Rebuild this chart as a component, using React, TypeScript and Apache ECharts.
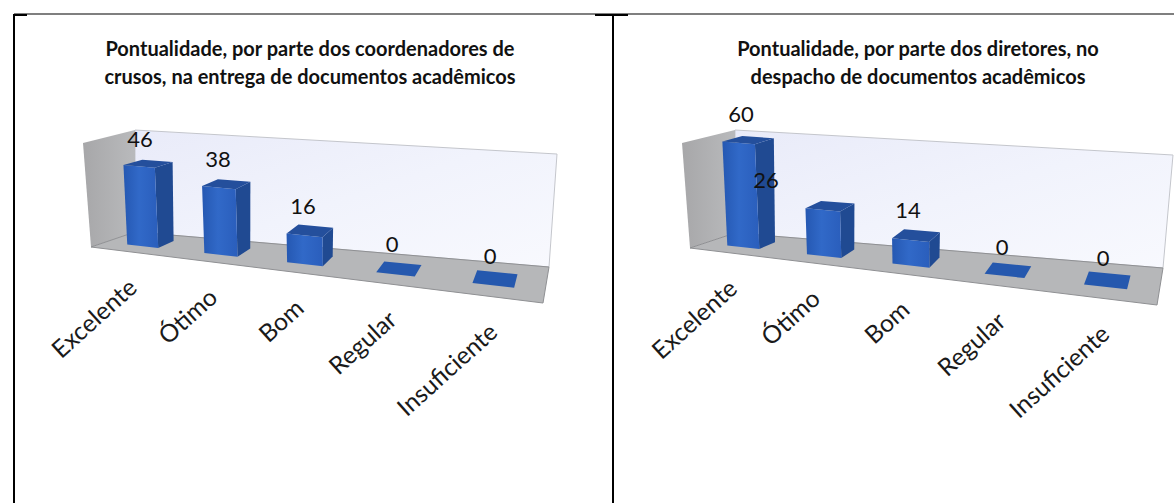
import React, { useEffect, useRef } from "react";
import * as echarts from "echarts";

const categories = ["Excelente", "Ótimo", "Bom", "Regular", "Insuficiente"];
const coordValues = [46, 38, 16, 0, 0];
const dirValues = [60, 26, 14, 0, 0];
const titleCoord = "Pontualidade, por parte dos coordenadores de\ncrusos, na entrega de documentos acadêmicos";
const titleDir = "Pontualidade, por parte dos diretores, no\ndespacho de documentos acadêmicos";
const axisMax = 60;

const FONT = "Lato";
const G = -0.17;
const D1 = 0.33;
const D2 = 0.72;
const BAR_FRACTION = 0.41;

type Pt = [number, number];
interface Box {
  fl: Pt; fr: Pt; bl: Pt; br: Pt;
  tfl: Pt; tbl: Pt; tbr: Pt;
  h: [number, number, number, number];
  lean: [number, number, number, number];
  labels: Pt[];
  titleX: number;
}

const boxA: Box = {
  fl: [91, 247], fr: [543, 303], bl: [135, 232], br: [549, 267],
  tfl: [83, 143], tbl: [135, 130], tbr: [557, 154],
  h: [104, 117, 101, 113],
  lean: [-8, 0, 0, 8],
  labels: [[140, 138], [218, 158], [303, 205], [392, 243], [490, 255]],
  titleX: 305,
};
const boxB: Box = {
  fl: [690, 248], fr: [1157, 305], bl: [735, 233], br: [1163, 268],
  tfl: [682, 143], tbl: [735, 130], tbr: [1173, 155],
  h: [104, 117, 102, 113],
  lean: [-8, 0, 0, 9],
  labels: [[741, 113], [766, 179], [908, 209], [1002, 246], [1103, 257]],
  titleX: 913,
};

const lerp = (a: Pt, b: Pt, t: number): Pt => [a[0] + (b[0] - a[0]) * t, a[1] + (b[1] - a[1]) * t];
const persp = (u: number) => (u * (1 + G)) / (1 + G * u);

function project(box: Box, u: number, d: number, w: number): Pt {
  const t = persp(u);
  const f = lerp(box.fl, box.fr, t);
  const b = lerp(box.bl, box.br, t);
  const p = lerp(f, b, d);
  const bil = (v: [number, number, number, number]) =>
    (v[0] * (1 - t) + v[1] * t) * (1 - d) + (v[2] * (1 - t) + v[3] * t) * d;
  return [p[0] + bil(box.lean) * w, p[1] - bil(box.h) * w];
}

function gridOf(box: Box) {
  return { left: box.fl[0], top: box.tfl[1], width: box.fr[0] - box.fl[0], height: 104 };
}

function barSeries(box: Box, values: number[], xIndex: number) {
  const g = gridOf(box);
  return {
    type: "custom",
    xAxisIndex: xIndex,
    yAxisIndex: xIndex,
    z: 5,
    data: values.map((v, i) => [i, v]),
    encode: { x: 0, y: 1 },
    renderItem: (_: any, api: any) => {
      const i = api.value(0);
      const v = api.value(1);
      const base = api.coord([i, 0]);
      const top = api.coord([i, v]);
      const half = (api.size([1, 0])[0] * BAR_FRACTION) / 2 / g.width;
      const uc = (base[0] - g.left) / g.width;
      const w = (base[1] - top[1]) / g.height;
      const u0 = uc - half;
      const u1 = uc + half;
      const A = project(box, u0, D1, 0);
      const B = project(box, u1, D1, 0);
      const C = project(box, u1, D2, 0);
      const At = project(box, u0, D1, w);
      const Bt = project(box, u1, D1, w);
      const Ct = project(box, u1, D2, w);
      const Dt = project(box, u0, D2, w);
      const children: any[] = [];
      if (v > 0) {
        children.push({
          type: "polygon",
          shape: { points: [B, C, Ct, Bt] },
          style: { fill: "#204a92" },
        });
        children.push({
          type: "polygon",
          shape: { points: [A, B, Bt, At] },
          style: {
            fill: new echarts.graphic.LinearGradient(0, 0, 1, 0, [
              { offset: 0, color: "#2558b2" },
              { offset: 0.45, color: "#3169c8" },
              { offset: 1, color: "#2a5ebc" },
            ]),
          },
        });
      }
      children.push({
        type: "polygon",
        shape: { points: [At, Bt, Ct, Dt] },
        style: { fill: v > 0 ? "#244f9c" : "#2558ae" },
      });
      const lab = box.labels[i];
      children.push({
        type: "text",
        x: lab[0],
        y: lab[1],
        z2: 20,
        style: {
          text: String(v),
          align: "center",
          verticalAlign: "middle",
          fontFamily: FONT,
          fontSize: 22,
          fill: "#111111",
        },
      });
      const anchor = project(box, uc, 0, 0);
      children.push({
        type: "text",
        x: anchor[0] + 3,
        y: anchor[1] + 31,
        rotation: (42 * Math.PI) / 180,
        style: {
          text: categories[i],
          align: "right",
          verticalAlign: "middle",
          fontFamily: FONT,
          fontSize: 24.5,
          fill: "#1a1a1a",
        },
      });
      return { type: "group", children };
    },
  };
}

function walls(box: Box) {
  const poly = (points: Pt[], fill: any, stroke?: string) => ({
    type: "polygon",
    shape: { points },
    style: { fill, stroke: stroke || "none", lineWidth: 1 },
    silent: true,
  });
  return [
    poly(
      [box.tbl, box.tbr, box.br, box.bl],
      new echarts.graphic.LinearGradient(0, 0, 1, 1, [
        { offset: 0, color: "#e9ebf9" },
        { offset: 0.5, color: "#f1f3fc" },
        { offset: 1, color: "#f8f9fe" },
      ]),
      "#c4c6cc"
    ),
    poly(
      [box.tfl, box.tbl, box.bl, box.fl],
      new echarts.graphic.LinearGradient(0, 0, 1, 0, [
        { offset: 0, color: "#a7a7a9" },
        { offset: 1, color: "#b9babc" },
      ])
    ),
    poly([box.fl, box.bl, box.br, box.fr], "#b6b7b9", "#8f9093"),
  ];
}

const frameLine = (x1: number, y1: number, x2: number, y2: number, stroke: string, lineWidth: number) => ({
  type: "line",
  shape: { x1, y1, x2, y2 },
  style: { stroke, lineWidth },
  silent: true,
});

export default function App() {
  const ref = useRef<HTMLDivElement>(null);
  useEffect(() => {
    const chart = echarts.init(ref.current!, undefined, { renderer: "svg" });
    const hidden = { show: false };
    chart.setOption({
      animation: false,
      backgroundColor: "#ffffff",
      title: [boxA, boxB].map((b, i) => ({
        text: i === 0 ? titleCoord : titleDir,
        left: b.titleX,
        top: 29,
        textAlign: "center",
        textStyle: { fontFamily: FONT, fontWeight: "bold", fontSize: 20, lineHeight: 28, color: "#111111" },
      })),
      grid: [gridOf(boxA), gridOf(boxB)],
      xAxis: [0, 1].map((g) => ({ type: "category", gridIndex: g, data: categories, ...hidden })),
      yAxis: [0, 1].map((g) => ({ type: "value", gridIndex: g, min: 0, max: axisMax, ...hidden })),
      graphic: [
        ...walls(boxA),
        ...walls(boxB),
        frameLine(14, 14, 1174, 14, "#555555", 1.5),
        frameLine(14, 14, 14, 503, "#000000", 2),
        frameLine(613, 14, 613, 503, "#000000", 2),
        frameLine(14, 15, 27, 15, "#000000", 2),
        frameLine(595, 15, 628, 15, "#000000", 2),
      ],
      series: [barSeries(boxA, coordValues, 0), barSeries(boxB, dirValues, 1)],
    });
    return () => chart.dispose();
  }, []);
  return <div ref={ref} style={{ position: "fixed", left: 0, top: 0, width: 1174, height: 503 }} />;
}
